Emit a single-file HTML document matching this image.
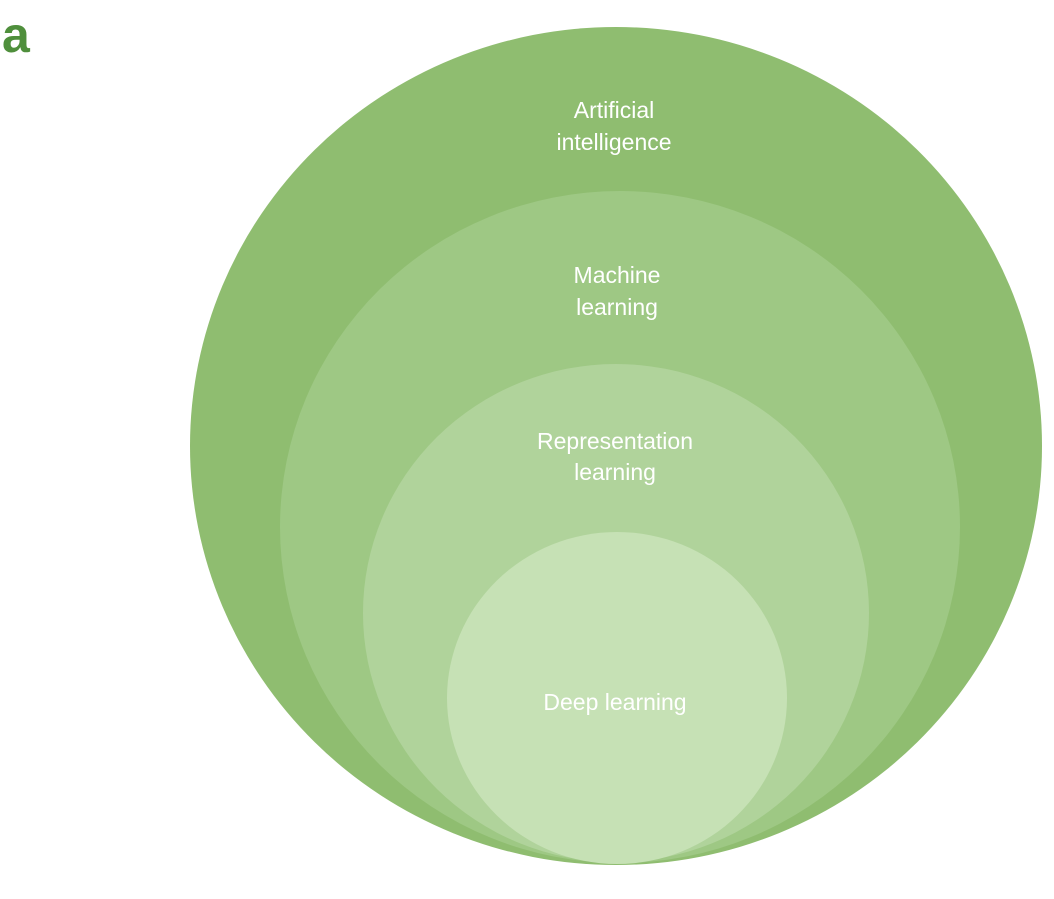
<!DOCTYPE html>
<html><head><style>
body{margin:0;background:#fff;width:1054px;height:894px;overflow:hidden}
</style></head><body>
<svg width="1054" height="894" xmlns="http://www.w3.org/2000/svg" font-family="Liberation Sans, sans-serif">
<text x="2" y="52" font-size="50" font-weight="bold" fill="#4f8f3c">a</text>
<ellipse cx="616" cy="446" rx="426" ry="419" fill="#8fbd70"/>
<ellipse cx="620" cy="527" rx="340" ry="336" fill="#9ec884"/>
<ellipse cx="616" cy="613" rx="253" ry="249" fill="#b0d39b"/>
<ellipse cx="617" cy="698" rx="170" ry="166" fill="#c6e1b5"/>
<g fill="#fff" font-size="23" text-anchor="middle">
<text x="614" y="118">Artificial</text>
<text x="614" y="150">intelligence</text>
<text x="617" y="283">Machine</text>
<text x="617" y="315">learning</text>
<text x="615" y="449">Representation</text>
<text x="615" y="480">learning</text>
<text x="615" y="710">Deep learning</text>
</g>
</svg>
</body></html>
